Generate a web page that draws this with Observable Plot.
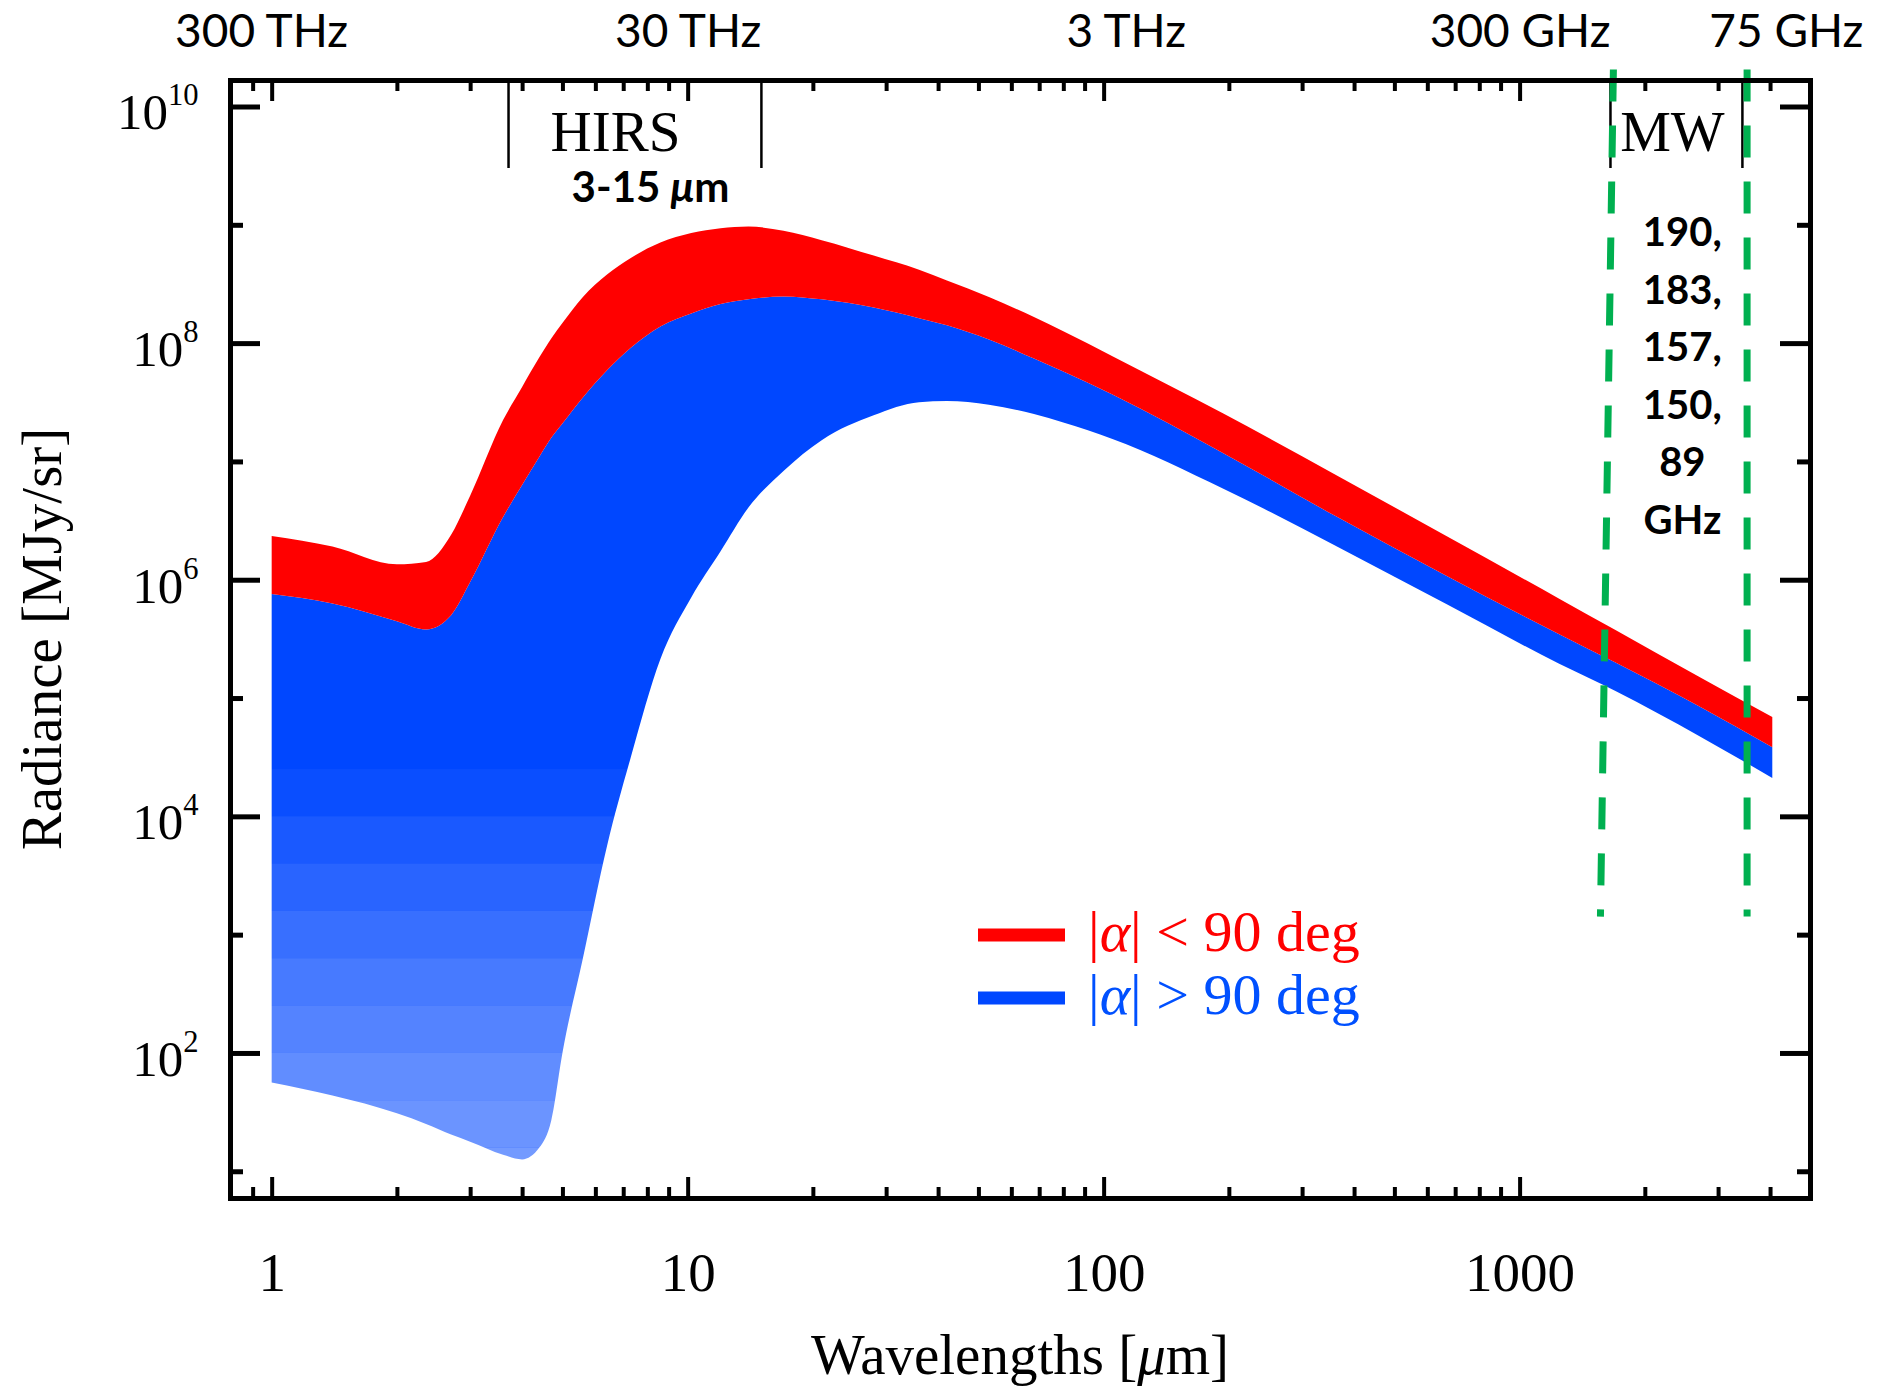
<!DOCTYPE html>
<html><head><meta charset="utf-8">
<script src="https://cdn.jsdelivr.net/npm/d3@7"></script>
<script src="https://cdn.jsdelivr.net/npm/@observablehq/plot@0.6"></script>
<style>
html,body{margin:0;padding:0;background:#fff;}
#chart{position:relative;width:1877px;height:1387px;}
#chart svg{font-family:"Liberation Serif","Times New Roman",serif;color:#000;background:#fff;}
</style></head><body><div id="chart"></div>
<script>
// ---- data ----
// wavelength grid (µm)
const wavelengths = [1, 1.4, 2, 2.35, 2.7, 3, 3.6, 4, 4.4, 4.7, 5, 5.6, 6.4, 7.3, 8.6, 10.2, 12, 14, 17, 21, 28, 36, 42, 53, 68, 80, 105, 194, 360, 670, 1245, 1700, 2700, 4050];
// log10 of radiance [MJy/sr]
const redUpperLog  = [6.37, 6.28, 6.13, 6.15, 6.38, 6.71, 7.35, 7.63, 7.88, 8.04, 8.17, 8.39, 8.58, 8.72, 8.85, 8.93, 8.97, 8.985, 8.95, 8.87, 8.74, 8.62, 8.53, 8.39, 8.22, 8.10, 7.89, 7.405, 6.89, 6.365, 5.84, 5.575, 5.18, 4.84];
const blueUpperLog = [5.88, 5.80, 5.65, 5.58, 5.70, 5.98, 6.53, 6.80, 7.04, 7.20, 7.32, 7.54, 7.77, 7.96, 8.14, 8.25, 8.33, 8.37, 8.395, 8.37, 8.30, 8.21, 8.15, 8.03, 7.87, 7.76, 7.565, 7.07, 6.54, 6.03, 5.54, 5.30, 4.93, 4.585];
const blueLowerLog = [1.75, 1.64, 1.49, 1.40, 1.31, 1.25, 1.14, 1.10, 1.20, 1.43, 2.00, 2.80, 3.75, 4.50, 5.33, 5.85, 6.24, 6.61, 6.92, 7.18, 7.39, 7.50, 7.51, 7.48, 7.40, 7.33, 7.19, 6.77, 6.29, 5.79, 5.29, 5.06, 4.68, 4.325];
// the |α|>90 bundle thins out into separate lines towards the bottom left:
// apparent ink coverage of the blue lines between successive radiance levels (log10)
const fadeLevelsLog = [4.4, 4.0, 3.6, 3.2, 2.8, 2.4, 2.0, 1.6, 1.2, 0.8];
const fadeCoverage = [0.96, 0.9, 0.84, 0.78, 0.72, 0.67, 0.62, 0.58, 0.55];
const fadeSpan = [0.9, 20];

// axes
const xMajorTicks = [1, 10, 100, 1000];
const xMinorTicks = [0.9, 2, 3, 4, 5, 6, 7, 8, 9, 20, 30, 40, 50, 60, 70, 80, 90, 200, 300, 400, 500, 600, 700, 800, 900, 2000, 3000, 4000];
const yMajorTicks = [1e2, 1e4, 1e6, 1e8, 1e10];
const yMinorTicks = [1e1, 1e3, 1e5, 1e7, 1e9];
const freqLabels = ["300 THz", "30 THz", "3 THz", "300 GHz", "75 GHz"];
const freqLabelAt = [0.943, 10, 113, 1000, 4365];

// annotations
const hirsBand = [3.7, 15];
const mwBand = [1649, 3423];
const greenLines = [{top: 1676, bottom: 1560}, {top: 3513, bottom: 3513}];
const greenSpanLog = [10.317, 3.157];
const bandNames = ["HIRS", "MW"];
const bandNameAt = [6.69, 2323];
const hirsRangeText = "3-15 μm";
const hirsRangeAt = 8.12;
const mwChannels = ["190,", "183,", "157,", "150,", "89", "GHz"];
const mwChannelsAt = 2455;

const RED = "#ff0000", BLUE = "#0047ff", GREEN = "#00b050";

// ---- layout ----
const W = 1877, H = 1387;
const mL = 230, mR = 67, mT = 80, mB = 189;
const innerW = W - mL - mR, innerH = H - mT - mB;

const rows = wavelengths.map((w, i) => ({
  w,
  redTop: 10 ** redUpperLog[i],
  blueTop: 10 ** blueUpperLog[i],
  blueBot: 10 ** blueLowerLog[i]
}));
const fadeBands = fadeCoverage.map((c, i) => ({
  hi: 10 ** fadeLevelsLog[i], lo: 10 ** fadeLevelsLog[i + 1], veil: 1 - c
}));
const bandLabelRows = bandNames.map((t, i) => ({t, w: bandNameAt[i]}));
const freqRows = freqLabels.map((t, i) => ({t, w: freqLabelAt[i]}));

const serif = "Liberation Serif, Times New Roman, serif";
const sans = "Lato, Open Sans, sans-serif";

const chart = Plot.plot({
  width: W, height: H,
  marginLeft: mL, marginRight: mR, marginTop: mT, marginBottom: mB,
  x: {type: "log", domain: [0.794, 4990]},
  y: {type: "log", domain: [10 ** 0.774, 10 ** 10.224]},
  opacity: {type: "identity"},
  marks: [
    // bundles
    Plot.areaY(rows, {x: "w", y1: "blueBot", y2: "blueTop", fill: BLUE, curve: "monotone-x"}),
    Plot.areaY(rows, {x: "w", y1: "blueTop", y2: "redTop", fill: RED, curve: "monotone-x"}),
    // lighter look where the blue lines spread apart
    Plot.rect(fadeBands, {x1: () => fadeSpan[0], x2: () => fadeSpan[1], y1: "lo", y2: "hi",
      fill: "white", fillOpacity: "veil"}),
    // band brackets
    Plot.ruleX(hirsBand, {insetBottom: innerH - 88, strokeWidth: 2.5}),
    Plot.ruleX(mwBand, {insetBottom: innerH - 88, strokeWidth: 2.5}),
    // green dashed channel limits
    Plot.link(greenLines, {x1: "top", x2: "bottom", y1: () => 10 ** greenSpanLog[0], y2: () => 10 ** greenSpanLog[1],
      stroke: GREEN, strokeWidth: 7, strokeDasharray: "32,24"}),
    // inward ticks on all four sides
    Plot.ruleX(xMajorTicks, {insetTop: innerH - 21, strokeWidth: 4}),
    Plot.ruleX(xMinorTicks, {insetTop: innerH - 11, strokeWidth: 4}),
    Plot.ruleX(xMajorTicks, {insetBottom: innerH - 21, strokeWidth: 4}),
    Plot.ruleX(xMinorTicks, {insetBottom: innerH - 11, strokeWidth: 4}),
    Plot.ruleY(yMajorTicks, {insetRight: innerW - 30, strokeWidth: 5}),
    Plot.ruleY(yMinorTicks, {insetRight: innerW - 13, strokeWidth: 5}),
    Plot.ruleY(yMajorTicks, {insetLeft: innerW - 30, strokeWidth: 5}),
    Plot.ruleY(yMinorTicks, {insetLeft: innerW - 13, strokeWidth: 5}),
    Plot.frame({strokeWidth: 5}),
    // axes labels
    Plot.axisX(xMajorTicks, {anchor: "bottom", tickSize: 0, tickPadding: 53, tickFormat: d => String(d),
      fontSize: 55, fontFamily: serif, label: null}),
    Plot.axisY(yMajorTicks, {anchor: "left", tickSize: 0, tickPadding: 32, dy: 6,
      tickFormat: d => String(Math.round(Math.log10(d))), fontSize: 51, fontFamily: serif, label: null}),
    // frequency labels along the top
    Plot.text(freqRows, {x: "w", text: "t", frameAnchor: "top", dy: -48, lineAnchor: "middle", fontSize: 46, fontFamily: sans}),
    // annotations
    Plot.text(bandLabelRows, {x: "w", text: "t", frameAnchor: "top", dy: 52, lineAnchor: "middle", fontSize: 57, fontFamily: serif}),
    Plot.text([hirsRangeText], {x: () => hirsRangeAt, text: d => d, frameAnchor: "top", dy: 108, lineAnchor: "middle",
      fontSize: 42, fontWeight: "bold", fontFamily: sans}),
    Plot.text([mwChannels.join("\n")], {x: () => mwChannelsAt, text: d => d, frameAnchor: "top", dy: 291, lineAnchor: "middle",
      lineHeight: 1.44, fontSize: 40, fontWeight: "bold", fontFamily: sans})
  ]
});

document.getElementById("chart").appendChild(chart);

const svg = d3.select(chart);

// superscript exponents on y tick labels
svg.selectAll('g[aria-label="y-axis tick label"] text').each(function () {
  const t = d3.select(this);
  const e = t.text();
  t.text("10");
  t.append("tspan").attr("dy", "-0.78em").attr("font-size", "0.6em").text(e);
});
// italic mu in "3-15 μm"
svg.selectAll("text").filter(function () { return d3.select(this).text() === hirsRangeText; }).each(function () {
  const t = d3.select(this);
  t.text("3-15 ");
  t.append("tspan").attr("font-style", "italic").text("μ");
  t.append("tspan").text("m");
});

// axis titles
const xt = svg.append("text").attr("x", mL + innerW / 2).attr("y", 1374).attr("text-anchor", "middle")
  .attr("font-family", serif).attr("font-size", 57);
xt.append("tspan").text("Wavelengths [");
xt.append("tspan").attr("font-style", "italic").text("μ");
xt.append("tspan").text("m]");
svg.append("text").attr("transform", `translate(61,${mT + innerH / 2}) rotate(-90)`).attr("text-anchor", "middle")
  .attr("font-family", serif).attr("font-size", 57).text("Radiance [MJy/sr]");

// legend
const legend = [
  {color: RED, text: "#ff0000", sign: "<", y: 935},
  {color: BLUE, text: "#0050ff", sign: ">", y: 998}
];
const lg = svg.append("g");
legend.forEach(l => {
  lg.append("rect").attr("x", 978).attr("y", l.y - 6.5).attr("width", 87).attr("height", 13).attr("fill", l.color);
  const t = lg.append("text").attr("x", 1088).attr("y", l.y + 16).attr("text-anchor", "start")
    .attr("font-family", serif).attr("font-size", 58).attr("fill", l.text);
  t.append("tspan").text("|");
  t.append("tspan").attr("font-style", "italic").text("α");
  t.append("tspan").text(`| ${l.sign} 90 deg`);
});
</script></body></html>
